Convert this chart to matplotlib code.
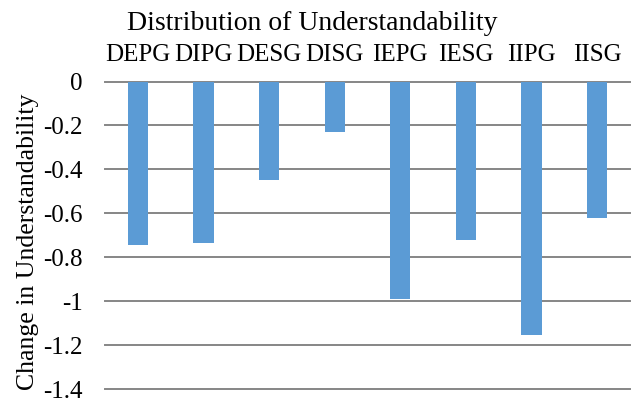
import matplotlib
matplotlib.use("Agg")
import matplotlib.pyplot as plt

categories = ["DEPG", "DIPG", "DESG", "DISG", "IEPG", "IESG", "IIPG", "IISG"]
values = [-0.745, -0.735, -0.45, -0.23, -0.99, -0.72, -1.155, -0.62]
yticks = [0, -0.2, -0.4, -0.6, -0.8, -1.0, -1.2, -1.4]
ytick_labels = ["0", "-0.2", "-0.4", "-0.6", "-0.8", "-1", "-1.2", "-1.4"]

plt.rcParams['font.family'] = ['Liberation Serif', 'DejaVu Serif']

fig = plt.figure(figsize=(6.31, 4.0), dpi=100)
ax = fig.add_axes([105/631, 1-389/400, 525/631, (389-81.5)/400])

x = range(len(categories))
ax.bar(x, values, width=0.31, color="#5B9BD5", zorder=3)

ax.set_xlim(-0.5, len(categories) - 0.5)
ax.set_ylim(-1.4, 0)
ax.set_yticks(yticks)
ax.set_yticklabels(ytick_labels)
ax.set_xticks(list(x))
ax.set_xticklabels(categories)
ax.xaxis.tick_top()
ax.tick_params(axis='x', length=0, pad=11, labelsize=18, colors='#000000')
ax.tick_params(axis='y', length=0, pad=16, labelsize=18, colors='#000000')

for s in ax.spines.values():
    s.set_visible(False)

ax.set_axisbelow(True)
ax.grid(axis='y', color='#868686', linewidth=1.4)
ax.grid(axis='x', visible=False)
for line in ax.get_ygridlines():
    line.set_clip_on(False)

fig.text(312/631, 1-29.5/400, "Distribution of Understandability",
         ha='center', va='baseline', fontsize=20)
fig.text(28/631, 1-241.5/400, "Change in Understandability",
         ha='center', va='center', rotation=90, fontsize=18.5)

fig.savefig("out.png", dpi=100)
